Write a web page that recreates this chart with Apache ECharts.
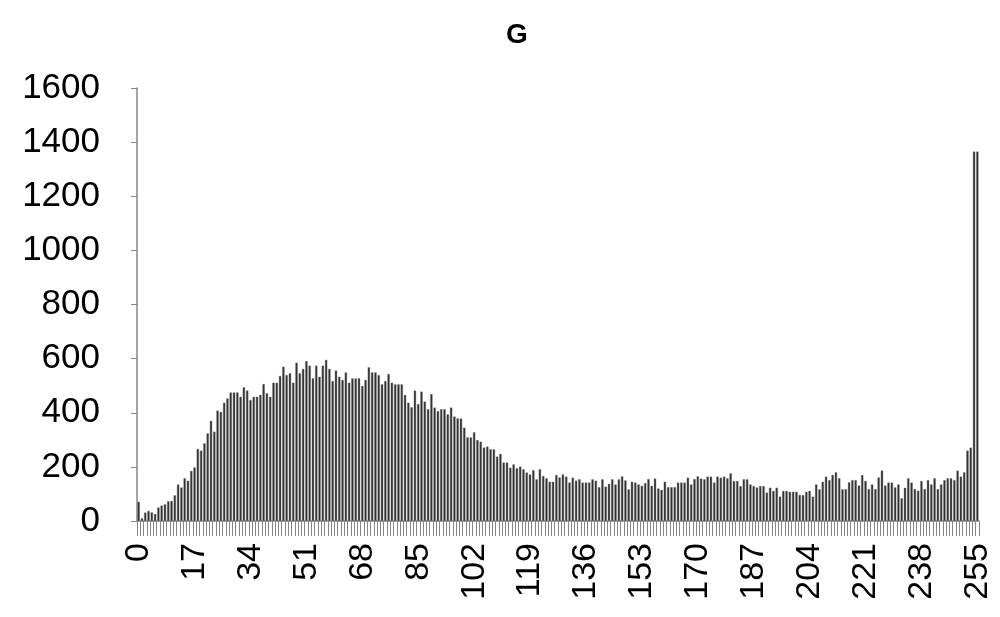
<!DOCTYPE html>
<html>
<head>
<meta charset="utf-8">
<title>G</title>
<script src="https://cdn.jsdelivr.net/npm/echarts@6/dist/echarts.min.js"></script>
<style>
  html, body { margin: 0; padding: 0; background: #fff; }
  #chart { width: 1000px; height: 617px; }
</style>
</head>
<body>
<div id="chart"></div>
<script>
  // histogram of the G channel, levels 0..255
  const levels = []
  for (let i = 0; i <= 255; i++) levels.push(String(i))

  const counts = [
    71, 10, 31, 37, 32, 26, 50, 57, 62, 73, 74, 95, 135, 124, 158, 149, 185, 198, 266, 260,
    287, 324, 370, 330, 408, 403, 437, 453, 475, 475, 475, 459, 494, 482, 447, 459, 459, 466, 506, 472,
    459, 511, 511, 536, 570, 539, 546, 511, 585, 546, 562, 591, 574, 527, 574, 533, 574, 595, 562, 517,
    556, 533, 521, 549, 511, 527, 527, 527, 499, 521, 568, 549, 549, 539, 505, 517, 543, 511, 505, 505,
    505, 466, 437, 420, 482, 432, 478, 441, 413, 469, 419, 406, 413, 413, 394, 419, 386, 379, 379, 345,
    309, 309, 328, 299, 293, 271, 275, 265, 265, 238, 248, 216, 216, 197, 209, 195, 201, 191, 179, 172,
    188, 154, 191, 166, 158, 145, 145, 170, 161, 172, 164, 142, 160, 149, 154, 142, 142, 142, 154, 149,
    125, 154, 127, 137, 154, 135, 154, 165, 150, 117, 145, 142, 135, 130, 140, 155, 130, 157, 120, 115,
    145, 125, 125, 125, 142, 142, 142, 160, 135, 155, 165, 157, 154, 164, 164, 142, 164, 160, 164, 158,
    176, 148, 148, 129, 154, 154, 135, 129, 124, 129, 129, 105, 123, 111, 123, 90, 111, 111, 108, 108,
    108, 96, 96, 108, 111, 90, 135, 117, 145, 164, 151, 170, 180, 158, 117, 118, 143, 151, 151, 131,
    170, 148, 118, 135, 118, 161, 186, 131, 142, 142, 124, 135, 84, 123, 158, 142, 118, 112, 148, 118,
    151, 135, 158, 118, 135, 151, 158, 158, 151, 186, 164, 180, 260, 271, 1365, 1365
  ]

  const yTicks = [0, 200, 400, 600, 800, 1000, 1200, 1400, 1600]

  const chart = echarts.init(document.getElementById('chart'), null, { renderer: 'canvas' })
  const font = 'Liberation Sans, Arial, sans-serif'

  chart.setOption({
    backgroundColor: '#ffffff',
    animation: false,
    title: {
      text: 'G',
      left: 512,
      top: 16,
      textAlign: 'center',
      textStyle: { fontFamily: font, fontSize: 28, fontWeight: 'bold', color: '#000' }
    },
    grid: { left: 137, right: 21, top: 88, bottom: 96 },
    xAxis: {
      type: 'category',
      data: levels,
      boundaryGap: true,
      axisLine: { lineStyle: { color: '#868686', width: 1.5 } },
      axisTick: { show: true, interval: 0, length: 15, lineStyle: { color: '#868686' } },
      axisLabel: {
        interval: 16,
        rotate: 90,
        margin: 22,
        fontFamily: font,
        fontSize: 34,
        color: '#000'
      }
    },
    yAxis: {
      type: 'value',
      min: yTicks[0],
      max: yTicks[yTicks.length - 1],
      interval: 200,
      splitLine: { show: false },
      axisLine: { show: true, lineStyle: { color: '#868686', width: 1.5 } },
      axisTick: { show: true, length: 6, lineStyle: { color: '#868686' } },
      axisLabel: {
        margin: 37,
        fontFamily: font,
        fontSize: 35,
        color: '#000',
        formatter: v => String(v)
      }
    },
    series: [{
      type: 'bar',
      data: counts,
      barCategoryGap: '30%',
      itemStyle: { color: '#2e2e2e', borderColor: '#7a7a7a', borderWidth: 0.4 }
    }]
  })
</script>
</body>
</html>
